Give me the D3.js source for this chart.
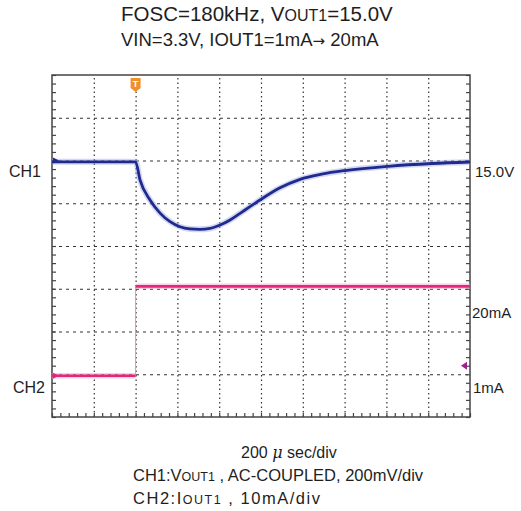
<!DOCTYPE html>
<html>
<head>
<meta charset="utf-8">
<script src="https://cdn.jsdelivr.net/npm/d3@7"></script>
<style>
  body { margin: 0; background: #fff; }
  svg { display: block; }
  text { font-family: "Liberation Sans", Arial, sans-serif; fill: #1e1e1e; }
</style>
</head>
<body>
<div id="chart"></div>
<script>
// CH1: Vout1 deviation from 15.0V (mV), time in microseconds
var ch1Time = [0, 200, 400, 421, 469, 517, 565, 612, 660, 708, 756, 804, 852, 900, 947, 995, 1091, 1187, 1290, 1402, 1608, 1818, 2000];
var ch1Mv = [-6, -6, -6, -91, -185, -246, -286, -310, -320, -322, -318, -302, -278, -247, -216, -185, -128, -88, -64, -47, -27, -14, -7];

// CH2: Iout1 load step (mA)
var ch2Time = [0, 400, 400, 2000];
var ch2Ma = [1, 1, 21.9, 21.9];

var triggerUs = 400;
var ch1Label = "15.0V";
var ch2Labels = ["20mA", "1mA"];

var width = 521;
var height = 511;
var plotL = 52, plotR = 470, plotT = 75, plotB = 417;

var svg = d3
  .select("#chart")
  .append("svg")
  .attr("width", width)
  .attr("height", height);

svg.append("rect").attr("width", width).attr("height", height).attr("fill", "#fff");

// 10 divisions across, 8 divisions down
var x = d3.scaleLinear().domain([0, 2000]).range([plotL, plotR]);
var y = d3.scaleLinear().domain([-4, 4]).range([plotB, plotT]);

var ch1Pos = 2;       // div where 0 mV sits
var ch1Scale = 200;   // mV/div
var ch2Pos = -3.134;  // div where 0 mA sits
var ch2Scale = 10;    // mA/div

function yCh1(v) { return y(ch1Pos + v / ch1Scale); }
function yCh2(v) { return y(ch2Pos + v / ch2Scale); }

// grid
svg.append("g")
  .attr("transform", "translate(0," + plotB + ")")
  .call(d3.axisBottom(x).tickValues(d3.range(200, 2000, 200)).tickSize(-(plotB - plotT)).tickFormat(""))
  .call(g => g.select(".domain").remove())
  .call(g => g.selectAll("line").attr("stroke", "#333").attr("stroke-width", 1.2).attr("stroke-dasharray", "1.5,3"));

svg.append("g")
  .attr("transform", "translate(" + plotL + ",0)")
  .call(d3.axisLeft(y).tickValues(d3.range(-3, 4, 1)).tickSize(-(plotR - plotL)).tickFormat(""))
  .call(g => g.select(".domain").remove())
  .call(g => g.selectAll("line").attr("stroke", "#333").attr("stroke-width", 1.2).attr("stroke-dasharray", "3,4"));

// frame with minor ticks
var minorY = d3.range(-4, 4.001, 0.2);
var minorX = d3.range(0, 2001, 40);

function frameTicks(g) {
  g.select(".domain").remove();
  g.selectAll("line").attr("stroke", "#444").attr("stroke-width", 1.2);
}

svg.append("g")
  .attr("transform", "translate(" + plotL + ",0)")
  .call(d3.axisRight(y).tickValues(minorY).tickSize(4).tickFormat(""))
  .call(frameTicks);

svg.append("g")
  .attr("transform", "translate(" + plotR + ",0)")
  .call(d3.axisLeft(y).tickValues(minorY).tickSize(4).tickFormat(""))
  .call(frameTicks);

svg.append("g")
  .attr("transform", "translate(0," + plotB + ")")
  .call(d3.axisTop(x).tickValues(minorX).tickSize(4).tickFormat(""))
  .call(frameTicks);

svg.append("rect")
  .attr("x", plotL).attr("y", plotT)
  .attr("width", plotR - plotL).attr("height", plotB - plotT)
  .attr("fill", "none").attr("stroke", "#444").attr("stroke-width", 1.5);

// CH1 trace
var ch1Data = ch1Time.map((t, i) => ({ t: t, v: ch1Mv[i] }));
var line1 = d3.line().x(d => x(d.t)).y(d => yCh1(d.v)).curve(d3.curveMonotoneX);

svg.append("path").datum(ch1Data)
  .attr("d", line1).attr("fill", "none")
  .attr("stroke", "#9ea6e6").attr("stroke-width", 6).attr("opacity", 0.45);
svg.append("path").datum(ch1Data)
  .attr("d", line1).attr("fill", "none")
  .attr("stroke", "#1f2a8e").attr("stroke-width", 2.8);

// CH2 trace: low and high segments, thin edge between
var low = [{ t: ch2Time[0], v: ch2Ma[0] }, { t: ch2Time[1], v: ch2Ma[1] }];
var high = [{ t: ch2Time[2], v: ch2Ma[2] }, { t: ch2Time[3], v: ch2Ma[3] }];
var line2 = d3.line().x(d => x(d.t)).y(d => yCh2(d.v));

svg.append("line")
  .attr("x1", x(ch2Time[1])).attr("x2", x(ch2Time[2]))
  .attr("y1", yCh2(ch2Ma[1])).attr("y2", yCh2(ch2Ma[2]))
  .attr("stroke", "#f08cb8").attr("stroke-width", 1);

[low, high].forEach(function(seg) {
  svg.append("path").datum(seg)
    .attr("d", line2).attr("fill", "none")
    .attr("stroke", "#f6a0c6").attr("stroke-width", 5.5).attr("opacity", 0.5);
  svg.append("path").datum(seg)
    .attr("d", line2).attr("fill", "none")
    .attr("stroke", "#e3287c").attr("stroke-width", 2.6);
});

// trigger marker
var tx = x(triggerUs);
svg.append("path")
  .attr("d", "M" + (tx - 5) + "," + (plotT + 3) + " h10 v10 l-5,4 l-5,-4 Z")
  .attr("fill", "#f0902a");
svg.append("text")
  .attr("x", tx).attr("y", plotT + 12)
  .attr("text-anchor", "middle")
  .style("font-size", "9px").style("font-weight", "bold").style("fill", "#fff")
  .text("T");

// channel position markers on the left edge
svg.append("path")
  .attr("d", "M" + (plotL + 1) + "," + (yCh1(0) - 3) + " l6,3 l-6,3 Z")
  .attr("fill", "#1f2a8e");
svg.append("path")
  .attr("d", "M" + (plotL + 1) + "," + (yCh2(ch2Ma[0]) - 3) + " l6,3 l-6,3 Z")
  .attr("fill", "#e3287c");

// CH2 level marker on right edge
svg.append("path")
  .attr("d", "M" + (plotR - 3) + "," + (y(-2.8) - 4) + " l-6,4 l6,4 Z")
  .attr("fill", "#a0208f");

// channel labels
svg.append("text").attr("x", 9).attr("y", 177).style("font-size", "16px").text("CH1");
svg.append("text").attr("x", 13).attr("y", 393).style("font-size", "16px").text("CH2");
svg.append("text").attr("x", 475).attr("y", 177).style("font-size", "15px").text(ch1Label);
svg.append("text").attr("x", 472).attr("y", 318).style("font-size", "15px").text(ch2Labels[0]);
svg.append("text").attr("x", 473).attr("y", 393).style("font-size", "15px").text(ch2Labels[1]);

// title
var t1 = svg.append("text").attr("x", 121).attr("y", 21).style("font-size", "20.5px");
t1.append("tspan").text("FOSC=180kHz, V");
t1.append("tspan").style("font-size", "16px").text("OUT1");
t1.append("tspan").text("=15.0V");

var t2 = svg.append("text").attr("x", 121).attr("y", 46).style("font-size", "18.5px");
t2.append("tspan").text("VIN=3.3V, IOUT1=1mA");
t2.append("tspan").style("font-family", "'DejaVu Sans'").style("font-size", "15px").text("\u2192");
t2.append("tspan").text(" 20mA");

// footer
var f1 = svg.append("text").attr("x", 241).attr("y", 458).style("font-size", "16px");
f1.append("tspan").text("200 ");
f1.append("tspan").style("font-family", "'DejaVu Serif'").style("font-style", "italic").text("\u03bc");
f1.append("tspan").text(" sec/div");

var f2 = svg.append("text").attr("x", 133).attr("y", 481).style("font-size", "16.5px");
f2.append("tspan").text("CH1:V");
f2.append("tspan").style("font-size", "12.5px").text("OUT1");
f2.append("tspan").text(" , AC-COUPLED, 200mV/div");

var f3 = svg.append("text").attr("x", 133).attr("y", 504).style("font-size", "16.5px")
  .attr("textLength", 187).attr("lengthAdjust", "spacing");
f3.append("tspan").text("CH2:I");
f3.append("tspan").style("font-size", "12.5px").text("OUT1");
f3.append("tspan").text(" , 10mA/div");
</script>
</body>
</html>
